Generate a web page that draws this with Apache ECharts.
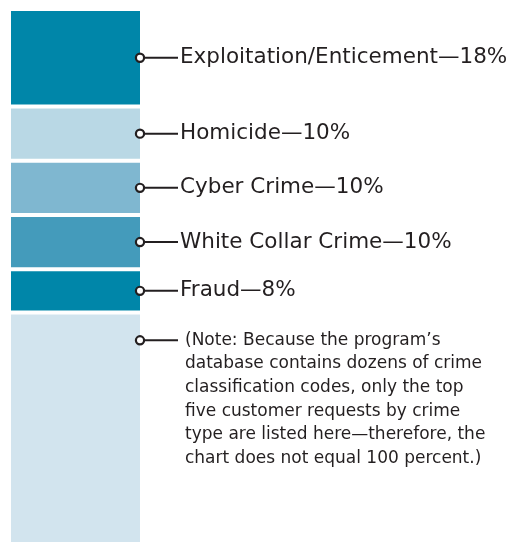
<!DOCTYPE html>
<html>
<head>
<meta charset="utf-8">
<script src="https://cdn.jsdelivr.net/npm/echarts@6/dist/echarts.min.js"></script>
<style>
  html, body { margin: 0; padding: 0; background: #fff; }
  #chart { width: 519px; height: 542px; }
</style>
</head>
<body>
<div id="chart"></div>
<script>
// 分类与占比（从上到下）
const crimeTypes = ['Exploitation/Enticement', 'Homicide', 'Cyber Crime', 'White Collar Crime', 'Fraud']
const crimeShares = [18, 10, 10, 10, 8]
const crimeColors = ['#0086a9', '#b9d8e5', '#7fb7d0', '#449bbb', '#0086a9']
// 其余部分（未列出的分类）
const otherShare = 44
const otherColor = '#d2e4ee'
const noteLines = [
  "(Note: Because the program\u2019s",
  'database contains dozens of crime',
  'classification codes, only the top',
  'five customer requests by crime',
  'type are listed here\u2014therefore, the',
  'chart does not equal 100 percent.)'
]

const chart = echarts.init(document.getElementById('chart'))

const textColor = '#231f20'
const richBase = {
  dot: {
    width: 6, height: 6, borderRadius: 5,
    borderColor: textColor, borderWidth: 2.2,
    backgroundColor: '#fff', verticalAlign: 'middle'
  },
  line: {
    width: 35, height: 2, backgroundColor: textColor, verticalAlign: 'middle'
  }
}

// 堆叠柱：第一个放在最上面，所以倒序压栈
const series = []
series.push({
  type: 'bar',
  stack: 'all',
  name: 'Other',
  barWidth: '100%',
  data: [otherShare],
  itemStyle: { color: otherColor, borderColor: '#fff', borderWidth: 2 },
  label: {
    show: true,
    position: [128, 16],
    formatter: noteLines.map((t, i) => (i === 0 ? '{dot|}{line|}{n1|' : '{sp|}{n|') + t + '}').join('\n'),
    rich: {
      ...richBase,
      sp: { width: 44, height: 23.6 },
      n1: { fontFamily: 'DejaVu Sans', fontSize: 17, color: textColor, lineHeight: 23.6, padding: [0, 0, 0, 7], verticalAlign: 'middle' },
      n: { fontFamily: 'DejaVu Sans', fontSize: 17, color: textColor, lineHeight: 23.6, padding: [0, 0, 0, 4], verticalAlign: 'middle' }
    }
  }
})
for (let i = crimeTypes.length - 1; i >= 0; i--) {
  series.push({
    type: 'bar',
    stack: 'all',
    name: crimeTypes[i],
    barWidth: '100%',
    data: [crimeShares[i]],
    itemStyle: { color: crimeColors[i], borderColor: '#fff', borderWidth: 2 },
    label: {
      show: true,
      position: 'right',
      distance: -5,
      formatter: '{dot|}{line|}{t|' + crimeTypes[i] + '\u2014' + crimeShares[i] + '%}',
      rich: {
        ...richBase,
        t: { fontFamily: 'DejaVu Sans', fontSize: 21.5, color: textColor, padding: [0, 0, 0, 2], verticalAlign: 'middle' }
      }
    }
  })
}

const option = {
  animation: false,
  grid: { left: 9, top: 9, width: 133, height: 542, outerBoundsMode: 'none' },
  xAxis: { type: 'category', data: ['all'], show: false },
  yAxis: { type: 'value', min: 0, max: 100, show: false },
  series: series
}

chart.setOption(option)
</script>
</body>
</html>
